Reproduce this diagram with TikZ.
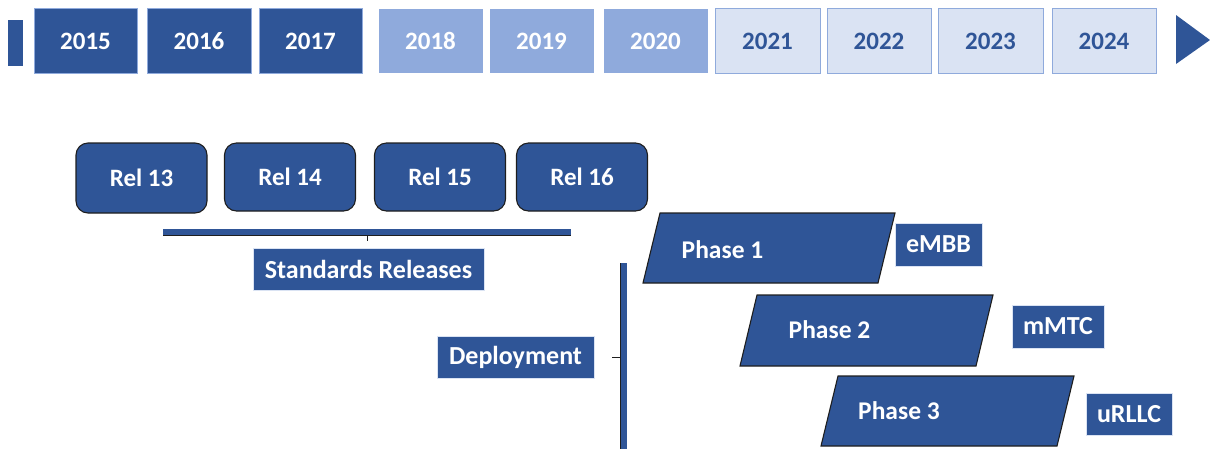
\documentclass[tikz,border=0pt]{standalone}
\usepackage{fontspec}
\setmainfont{Carlito}
\definecolor{dkblue}{HTML}{2F5597}
\definecolor{mdblue}{HTML}{8FAADC}
\definecolor{ltblue}{HTML}{DAE3F3}
\definecolor{edge}{HTML}{1E1E1E}
\tikzset{
  base/.style={inner sep=0pt, font=\fontsize{25}{30}\selectfont\bfseries},
  yearA/.style={base, fill=dkblue, draw=mdblue, line width=0.8pt, text=white, minimum height=65pt},
  yearB/.style={base, fill=mdblue, draw=white, line width=0.8pt, text=white, minimum height=65pt},
  yearC/.style={base, fill=ltblue, draw=mdblue, line width=0.8pt, text=dkblue, minimum height=65pt},
  relbox/.style={base, fill=dkblue, draw=edge, line width=1.1pt, rounded corners=12pt, text=white, minimum width=131pt},
  lblbox/.style={base, font=\fontsize{26}{30}\selectfont\bfseries, fill=dkblue, draw=ltblue, line width=0.5pt, text=white},
  phasetxt/.style={base, font=\fontsize{25.5}{30}\selectfont\bfseries, text=white},
  phaseshape/.style={fill=dkblue, draw=edge, line width=1.1pt},
}
\begin{document}
\begin{tikzpicture}[x=1pt,y=-1pt]
\useasboundingbox (0,0) rectangle (1210,448);
% timeline
\fill[dkblue] (8,20) rectangle (23,66);
\node[yearA, minimum width=103pt] (y2015) at (85.5,41) {2015};
\node[yearA, minimum width=104pt] (y2016) at (199,41) {2016};
\node[yearA, minimum width=103pt] (y2017) at (310.5,41) {2017};
\node[yearB, minimum width=105pt] (y2018) at (430.5,41) {2018};
\node[yearB, minimum width=105pt] (y2019) at (541.5,41) {2019};
\node[yearB, minimum width=105pt] (y2020) at (655.5,41) {2020};
\node[yearC, minimum width=105pt] (y2021) at (767.5,41) {2021};
\node[yearC, minimum width=104pt] (y2022) at (879,41) {2022};
\node[yearC, minimum width=105pt] (y2023) at (990.5,41) {2023};
\node[yearC, minimum width=104pt] (y2024) at (1104,41) {2024};
\fill[dkblue] (1176,15) -- (1210,40) -- (1176,64) -- cycle;
% releases
\node[relbox, minimum height=70pt] (r13) at (141.5,178) {Rel 13};
\node[relbox, minimum height=68pt] (r14) at (290,177) {Rel 14};
\node[relbox, minimum height=68pt] (r15) at (440,177) {Rel 15};
\node[relbox, minimum height=68pt] (r16) at (582,177) {Rel 16};
% standards bracket
\fill[dkblue] (163,229) rectangle (571,235);
\draw[edge, line width=0.8pt] (163,235) -- (571,235);
\coordinate (brk) at (367,235);
\coordinate (brkend) at (367,241);
\draw[edge, line width=0.8pt] (brk) -- (brkend);
\node[lblbox, minimum width=231pt, minimum height=42pt] (std) at (368.5,269) {Standards Releases};
% deployment bracket
\fill[dkblue] (620,263) rectangle (627,449);
\draw[edge, line width=0.8pt] (620,263) -- (620,449);
\coordinate (dep) at (620,357);
\node[lblbox, minimum width=157pt, minimum height=42pt] (depl) at (515.5,357) {Deployment};
\coordinate (deptick) at (612,357);
\draw[edge, line width=0.8pt] (deptick) -- (dep);
% phases
\draw[phaseshape] (660,213) -- (895,213) -- (878,283) -- (643,283) -- cycle;
\node[phasetxt] (p1) at (722.5,250) {Phase 1};
\draw[phaseshape] (757,295) -- (993,295) -- (976,366) -- (740,366) -- cycle;
\node[phasetxt] (p2) at (829.5,330) {Phase 2};
\draw[phaseshape] (838,376) -- (1074,376) -- (1057,446) -- (821,446) -- cycle;
\node[phasetxt] (p3) at (899,411) {Phase 3};
% use cases
\node[lblbox, minimum width=87pt, minimum height=43pt] (embb) at (938.5,244.5) {eMBB};
\node[lblbox, minimum width=92pt, minimum height=43pt] (mmtc) at (1058,326.5) {mMTC};
\node[lblbox, minimum width=86pt, minimum height=42pt] (urllc) at (1129,414) {uRLLC};
\end{tikzpicture}
\end{document}
